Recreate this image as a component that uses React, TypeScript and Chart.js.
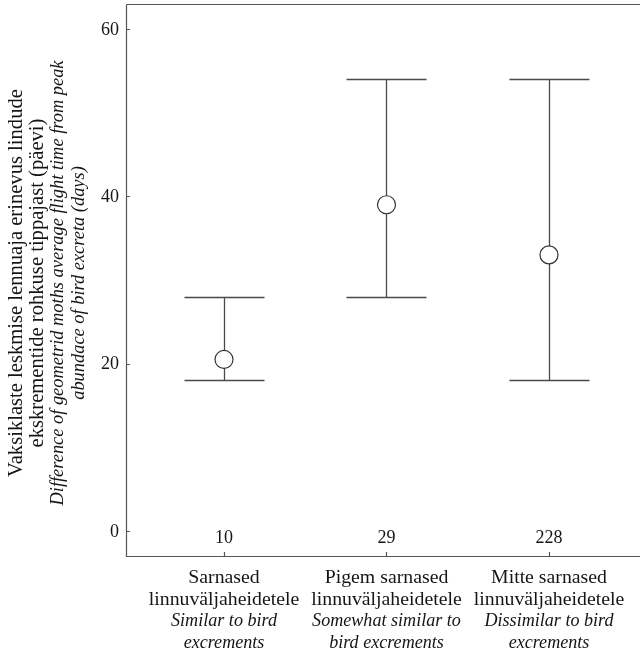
import React, { useEffect, useRef } from "react";
import { Chart, registerables } from "chart.js";

Chart.register(...registerables);

// ---- data ----
const labelEt1 = ["Sarnased", "Pigem sarnased", "Mitte sarnased"];
const labelEt2 = ["linnuväljaheidetele", "linnuväljaheidetele", "linnuväljaheidetele"];
const labelEn1 = ["Similar to bird", "Somewhat similar to", "Dissimilar to bird"];
const labelEn2 = ["excrements", "bird excrements", "excrements"];
const means = [20.5, 39, 33];
const lower = [18, 28, 18];
const upper = [28, 54, 54];
const counts = ["10", "29", "228"];
const yTicks = [0, 20, 40, 60];
const yTitleEt = [
  "Vaksiklaste leskmise lennuaja erinevus lindude",
  "ekskrementide rohkuse tippajast (päevi)",
];
const yTitleEn = [
  "Difference of geometrid moths average flight time from peak",
  "abundace of bird excreta (days)",
];

const FONT = '"Liberation Serif", "Times New Roman", serif';
const TEXT = "#151515";
const FRAME = "#555";

const decorPlugin = {
  id: "decor",
  beforeDatasetsDraw(chart: any) {
    const { ctx, chartArea, scales } = chart;
    const xs = scales.x;
    const ys = scales.y;
    ctx.save();
    // frame
    ctx.strokeStyle = FRAME;
    ctx.lineWidth = 1.2;
    ctx.beginPath();
    ctx.moveTo(chartArea.left + 0.5, chartArea.top + 0.5);
    ctx.lineTo(chartArea.right, chartArea.top + 0.5);
    ctx.moveTo(chartArea.left + 0.5, chartArea.top + 0.5);
    ctx.lineTo(chartArea.left + 0.5, chartArea.bottom + 0.5);
    ctx.lineTo(chartArea.right, chartArea.bottom + 0.5);
    // y ticks (inside)
    yTicks.forEach((v) => {
      const py = Math.round(ys.getPixelForValue(v)) + 0.5;
      ctx.moveTo(chartArea.left, py);
      ctx.lineTo(chartArea.left + 4, py);
    });
    // x ticks (inside)
    means.forEach((_, i) => {
      const px = Math.round(xs.getPixelForValue(i)) + 0.5;
      ctx.moveTo(px, chartArea.bottom);
      ctx.lineTo(px, chartArea.bottom - 4);
    });
    ctx.stroke();

    // error bars
    ctx.strokeStyle = "#4a4a4a";
    ctx.lineWidth = 1.3;
    ctx.beginPath();
    means.forEach((_, i) => {
      const px = Math.round(xs.getPixelForValue(i)) + 0.5;
      const pLo = Math.round(ys.getPixelForValue(lower[i])) + 0.5;
      const pHi = Math.round(ys.getPixelForValue(upper[i])) + 0.5;
      ctx.moveTo(px, pLo);
      ctx.lineTo(px, pHi);
      ctx.moveTo(px - 40, pLo);
      ctx.lineTo(px + 40, pLo);
      ctx.moveTo(px - 40, pHi);
      ctx.lineTo(px + 40, pHi);
    });
    ctx.stroke();
    ctx.restore();
  },
  afterDraw(chart: any) {
    const { ctx, chartArea, scales } = chart;
    const xs = scales.x;
    const ys = scales.y;
    ctx.save();
    ctx.fillStyle = TEXT;

    // y tick labels
    ctx.font = `18px ${FONT}`;
    ctx.textAlign = "right";
    ctx.textBaseline = "middle";
    yTicks.forEach((v) => {
      ctx.fillText(String(v), chartArea.left - 7, ys.getPixelForValue(v) + 1);
    });

    // counts
    ctx.textAlign = "center";
    counts.forEach((c, i) => {
      ctx.fillText(c, xs.getPixelForValue(i), ys.getPixelForValue(-0.75) + 1);
    });

    // x category labels
    ctx.textBaseline = "alphabetic";
    const b = chartArea.bottom;
    means.forEach((_, i) => {
      const px = xs.getPixelForValue(i);
      ctx.font = `19.8px ${FONT}`;
      ctx.fillText(labelEt1[i], px, b + 27);
      ctx.fillText(labelEt2[i], px, b + 48.5);
      ctx.font = `italic 18.1px ${FONT}`;
      ctx.fillText(labelEn1[i], px, b + 70);
      ctx.fillText(labelEn2[i], px, b + 91.5);
    });

    // y title
    const cy = (chartArea.top + chartArea.bottom) / 2 + 3;
    const xsTitle = [17, 38, 58.5, 79];
    const lines = [...yTitleEt, ...yTitleEn];
    lines.forEach((t, k) => {
      ctx.save();
      ctx.translate(xsTitle[k], cy);
      ctx.rotate(-Math.PI / 2);
      ctx.font = k < 2 ? `20.6px ${FONT}` : `italic 18.4px ${FONT}`;
      ctx.textAlign = "center";
      ctx.textBaseline = "middle";
      ctx.fillText(t, 0, 0);
      ctx.restore();
    });
    ctx.restore();
  },
};

export default function App() {
  const ref = useRef<HTMLCanvasElement | null>(null);
  useEffect(() => {
    if (!ref.current) return;
    const chart = new Chart(ref.current, {
      type: "scatter",
      data: {
        datasets: [
          {
            data: means.map((m, i) => ({ x: i, y: m })),
            pointRadius: 9,
            pointHoverRadius: 9,
            pointBackgroundColor: "#ffffff",
            pointBorderColor: "#333333",
            pointBorderWidth: 1.2,
            showLine: false,
            clip: false,
          },
        ],
      },
      options: {
        responsive: false,
        animation: false,
        layout: { autoPadding: false, padding: { left: 126, top: 4, right: 0, bottom: 97 } },
        plugins: { legend: { display: false }, tooltip: { enabled: false } },
        scales: {
          x: { type: "linear", min: -0.603, max: 2.56, display: false },
          y: { type: "linear", min: -3, max: 63, display: false },
        },
      },
      plugins: [decorPlugin],
    });
    return () => chart.destroy();
  }, []);
  return (
    <div style={{ position: "absolute", left: 0, top: 0, width: 640, height: 653, background: "#fff" }}>
      <canvas ref={ref} width={640} height={653} style={{ display: "block" }} />
    </div>
  );
}
